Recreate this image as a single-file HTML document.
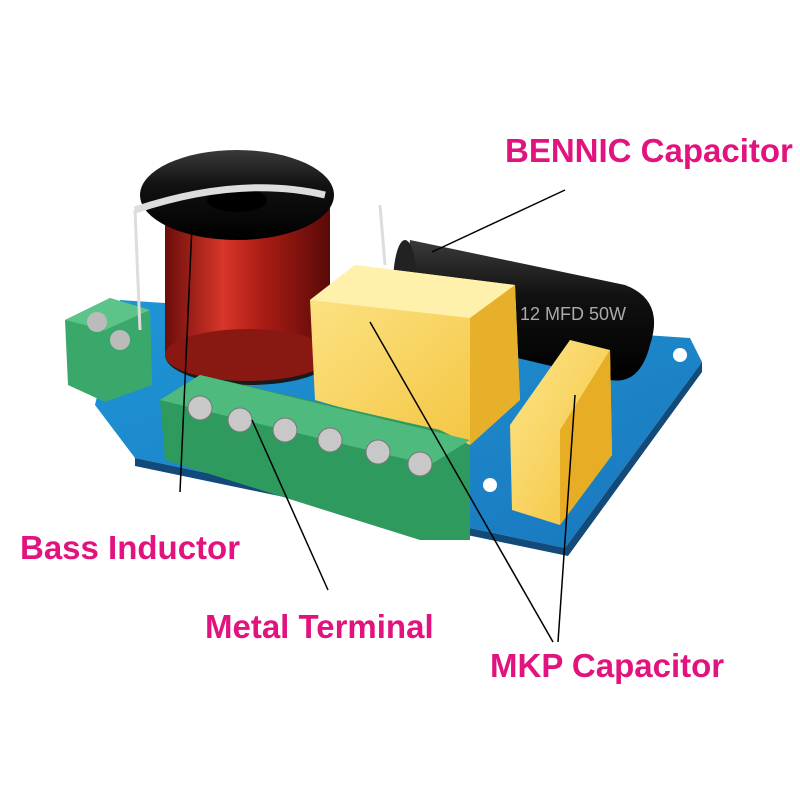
<!DOCTYPE html>
<html><head><meta charset="utf-8"><style>
html,body{margin:0;padding:0;background:#fff;width:800px;height:800px;overflow:hidden}
svg{display:block}
text{font-family:"Liberation Sans",sans-serif;font-weight:bold;fill:#e2137e}
</style></head><body>
<svg width="800" height="800" viewBox="0 0 800 800">
<defs>
<linearGradient id="cu" x1="0" x2="1"><stop offset="0" stop-color="#6b0d0a"/><stop offset="0.35" stop-color="#d8362a"/><stop offset="0.6" stop-color="#a81c14"/><stop offset="1" stop-color="#5a0a08"/></linearGradient>
<linearGradient id="blk" x1="0" y1="0" x2="0" y2="1"><stop offset="0" stop-color="#3a3a3a"/><stop offset="0.4" stop-color="#111"/><stop offset="1" stop-color="#000"/></linearGradient>
<linearGradient id="yel" x1="0" y1="0" x2="1" y2="1"><stop offset="0" stop-color="#fde58a"/><stop offset="1" stop-color="#f3c23a"/></linearGradient>
<linearGradient id="pcb" x1="0" y1="0" x2="1" y2="1"><stop offset="0" stop-color="#1e95d6"/><stop offset="1" stop-color="#1a78bd"/></linearGradient>
</defs>
<polygon points="120,300 690,338 702,362 565,548 135,458 95,405" fill="url(#pcb)"/>
<polygon points="565,548 702,362 702,372 568,556 135,466 135,458" fill="#124a7a"/>
<circle cx="680" cy="355" r="7" fill="#fff"/><circle cx="490" cy="485" r="7" fill="#fff"/>
<polygon points="65,320 110,298 150,310 152,385 105,402 68,385" fill="#3aa86a"/>
<polygon points="65,320 110,298 150,310 105,330" fill="#5cc488"/>
<circle cx="97" cy="322" r="10" fill="#bbb"/><circle cx="120" cy="340" r="10" fill="#bbb"/>
<ellipse cx="250" cy="355" rx="85" ry="30" fill="#1a1a1a"/>
<rect x="165" y="200" width="165" height="155" fill="url(#cu)"/>
<ellipse cx="248" cy="355" rx="83" ry="26" fill="#8a1812"/>
<ellipse cx="237" cy="195" rx="97" ry="45" fill="url(#blk)"/>
<ellipse cx="237" cy="200" rx="30" ry="12" fill="#000"/>
<path d="M135,210 Q240,175 325,195" stroke="#ddd" stroke-width="7" fill="none"/>
<path d="M135,210 L140,330" stroke="#ddd" stroke-width="3" fill="none"/>
<path d="M380,205 L385,265" stroke="#ddd" stroke-width="3" fill="none"/>
<path d="M410,240 L625,285 Q665,300 650,345 Q640,385 610,380 L400,330 Z" fill="url(#blk)"/>
<ellipse cx="405" cy="285" rx="12" ry="45" fill="#222"/>
<text x="520" y="320" font-size="18" style="fill:#aaa;font-weight:normal">12 MFD 50W</text>
<polygon points="310,300 355,265 515,285 520,400 470,445 315,400" fill="url(#yel)"/>
<polygon points="310,300 355,265 515,285 470,318" fill="#fff1ab"/>
<polygon points="470,318 515,285 520,400 470,445" fill="#e7b02a"/>
<polygon points="510,425 570,340 610,350 612,455 560,525 512,510" fill="url(#yel)"/>
<polygon points="560,430 610,350 612,455 560,525" fill="#e6ad25"/>
<polygon points="160,400 200,375 440,430 470,445 470,540 420,540 165,460" fill="#2f9a5e"/>
<polygon points="160,400 200,375 470,440 430,465" fill="#4fba7e"/>
<g fill="#c8c8c8" stroke="#777" stroke-width="1">
<circle cx="200" cy="408" r="12"/><circle cx="240" cy="420" r="12"/><circle cx="285" cy="430" r="12"/><circle cx="330" cy="440" r="12"/><circle cx="378" cy="452" r="12"/><circle cx="420" cy="464" r="12"/>
</g>
<g stroke="#000" stroke-width="1.5" fill="none">
<line x1="565" y1="190" x2="432" y2="252"/>
<line x1="180" y1="492" x2="192" y2="225"/>
<line x1="328" y1="590" x2="252" y2="420"/>
<line x1="553" y1="642" x2="370" y2="322"/>
<line x1="558" y1="642" x2="575" y2="395"/>
</g>
<text x="505" y="162" font-size="33">BENNIC Capacitor</text>
<text x="20" y="559" font-size="33">Bass Inductor</text>
<text x="205" y="638" font-size="33">Metal Terminal</text>
<text x="490" y="677" font-size="33">MKP Capacitor</text>
</svg>
</body></html>
